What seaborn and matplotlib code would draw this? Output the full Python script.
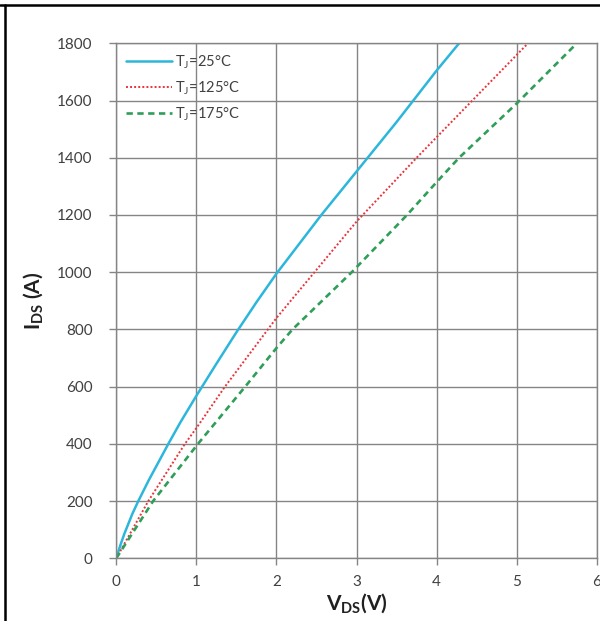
import matplotlib
matplotlib.use("Agg")
import matplotlib.pyplot as plt
from matplotlib.lines import Line2D
import seaborn as sns
import pandas as pd

# ---- data ----
v_25 = [0, 0.05, 0.1, 0.2, 0.275, 0.4, 0.65, 0.8, 1.0, 1.25, 1.5, 1.75, 2.0,
        2.56, 3.0, 3.5, 4.0, 4.28]
i_25 = [0, 45, 85, 155, 200, 270, 400, 475, 568, 680, 790, 895, 995,
        1200, 1352, 1525, 1705, 1800]

v_125 = [0, 0.4, 0.857, 1.0, 1.357, 2.0, 3.0, 3.75, 4.0, 5.14]
i_125 = [0, 200, 400, 455, 600, 840, 1177, 1400, 1472, 1800]

v_175 = [0, 0.46, 1.02, 1.61, 2.0, 2.2, 2.94, 3.63, 4.0, 4.28, 5.0, 5.75]
i_175 = [0, 200, 400, 600, 735, 800, 1000, 1200, 1315, 1400, 1590, 1800]

labels = ["T$_\\mathrm{J}$=25°C", "T$_\\mathrm{J}$=125°C", "T$_\\mathrm{J}$=175°C"]
x_ticks = [0, 1, 2, 3, 4, 5, 6]
y_ticks = [0, 200, 400, 600, 800, 1000, 1200, 1400, 1600, 1800]

sns.set_theme(style="white")
plt.rcParams["font.family"] = ["Lato", "DejaVu Sans"]
plt.rcParams["mathtext.fontset"] = "custom"
plt.rcParams["mathtext.rm"] = "Lato"
plt.rcParams["mathtext.bf"] = "Lato:bold"

fig = plt.figure(figsize=(6.0, 6.21), dpi=100)
ax = fig.add_axes([0.1938, 0.1010, 0.8010, 0.8293])

series = [
    (v_25, i_25, labels[0], "#2db6dc", "-", 1.8),
    (v_125, i_125, labels[1], "#e8343a", (0, (1, 1.1)), 1.4),
    (v_175, i_175, labels[2], "#2e9e58", (0, (2.4, 1.7)), 1.9),
]
for v, i, lab, col, ls, lw in series:
    df = pd.DataFrame({"V": v, "I": i})
    sns.lineplot(data=df, x="V", y="I", ax=ax, color=col, linestyle=ls,
                 linewidth=lw, label=lab, sort=False, estimator=None)

ax.set_xlim(0, 6)
ax.set_ylim(0, 1800)
ax.set_xticks(x_ticks)
ax.set_yticks(y_ticks)
ax.grid(True, color="#858585", linewidth=1.0)
ax.set_axisbelow(True)
for s in ax.spines.values():
    s.set_color("#858585")
    s.set_linewidth(1.0)
ax.tick_params(axis="both", which="major", length=5, width=1.0,
               color="#858585", labelsize=11, labelcolor="#404040",
               direction="out")
ax.tick_params(axis="y", left=True, pad=12)
ax.tick_params(axis="x", bottom=True, pad=7)

ax.set_xlabel("V$_{\\mathbf{DS}}$(V)", fontsize=15, fontweight="bold",
              color="#202020", labelpad=2)
ax.set_ylabel("I$_{\\mathbf{DS}}$ (A)", fontsize=15, fontweight="bold",
              color="#202020", labelpad=8)

leg = ax.legend(loc="upper left", frameon=False, fontsize=10.5,
                handlelength=3.1, handletextpad=0.25, labelspacing=0.55,
                borderaxespad=0.3, bbox_to_anchor=(0.0, 1.0))
for t in leg.get_texts():
    t.set_color("#404040")

# outer frame (top and left edges)
fig.add_artist(Line2D([0, 1], [1 - 5 / 621, 1 - 5 / 621], color="black",
                      linewidth=1.8, transform=fig.transFigure))
fig.add_artist(Line2D([5 / 600, 5 / 600], [0, 1 - 5 / 621], color="black",
                      linewidth=1.8, transform=fig.transFigure))

fig.savefig("out.png", dpi=100)
